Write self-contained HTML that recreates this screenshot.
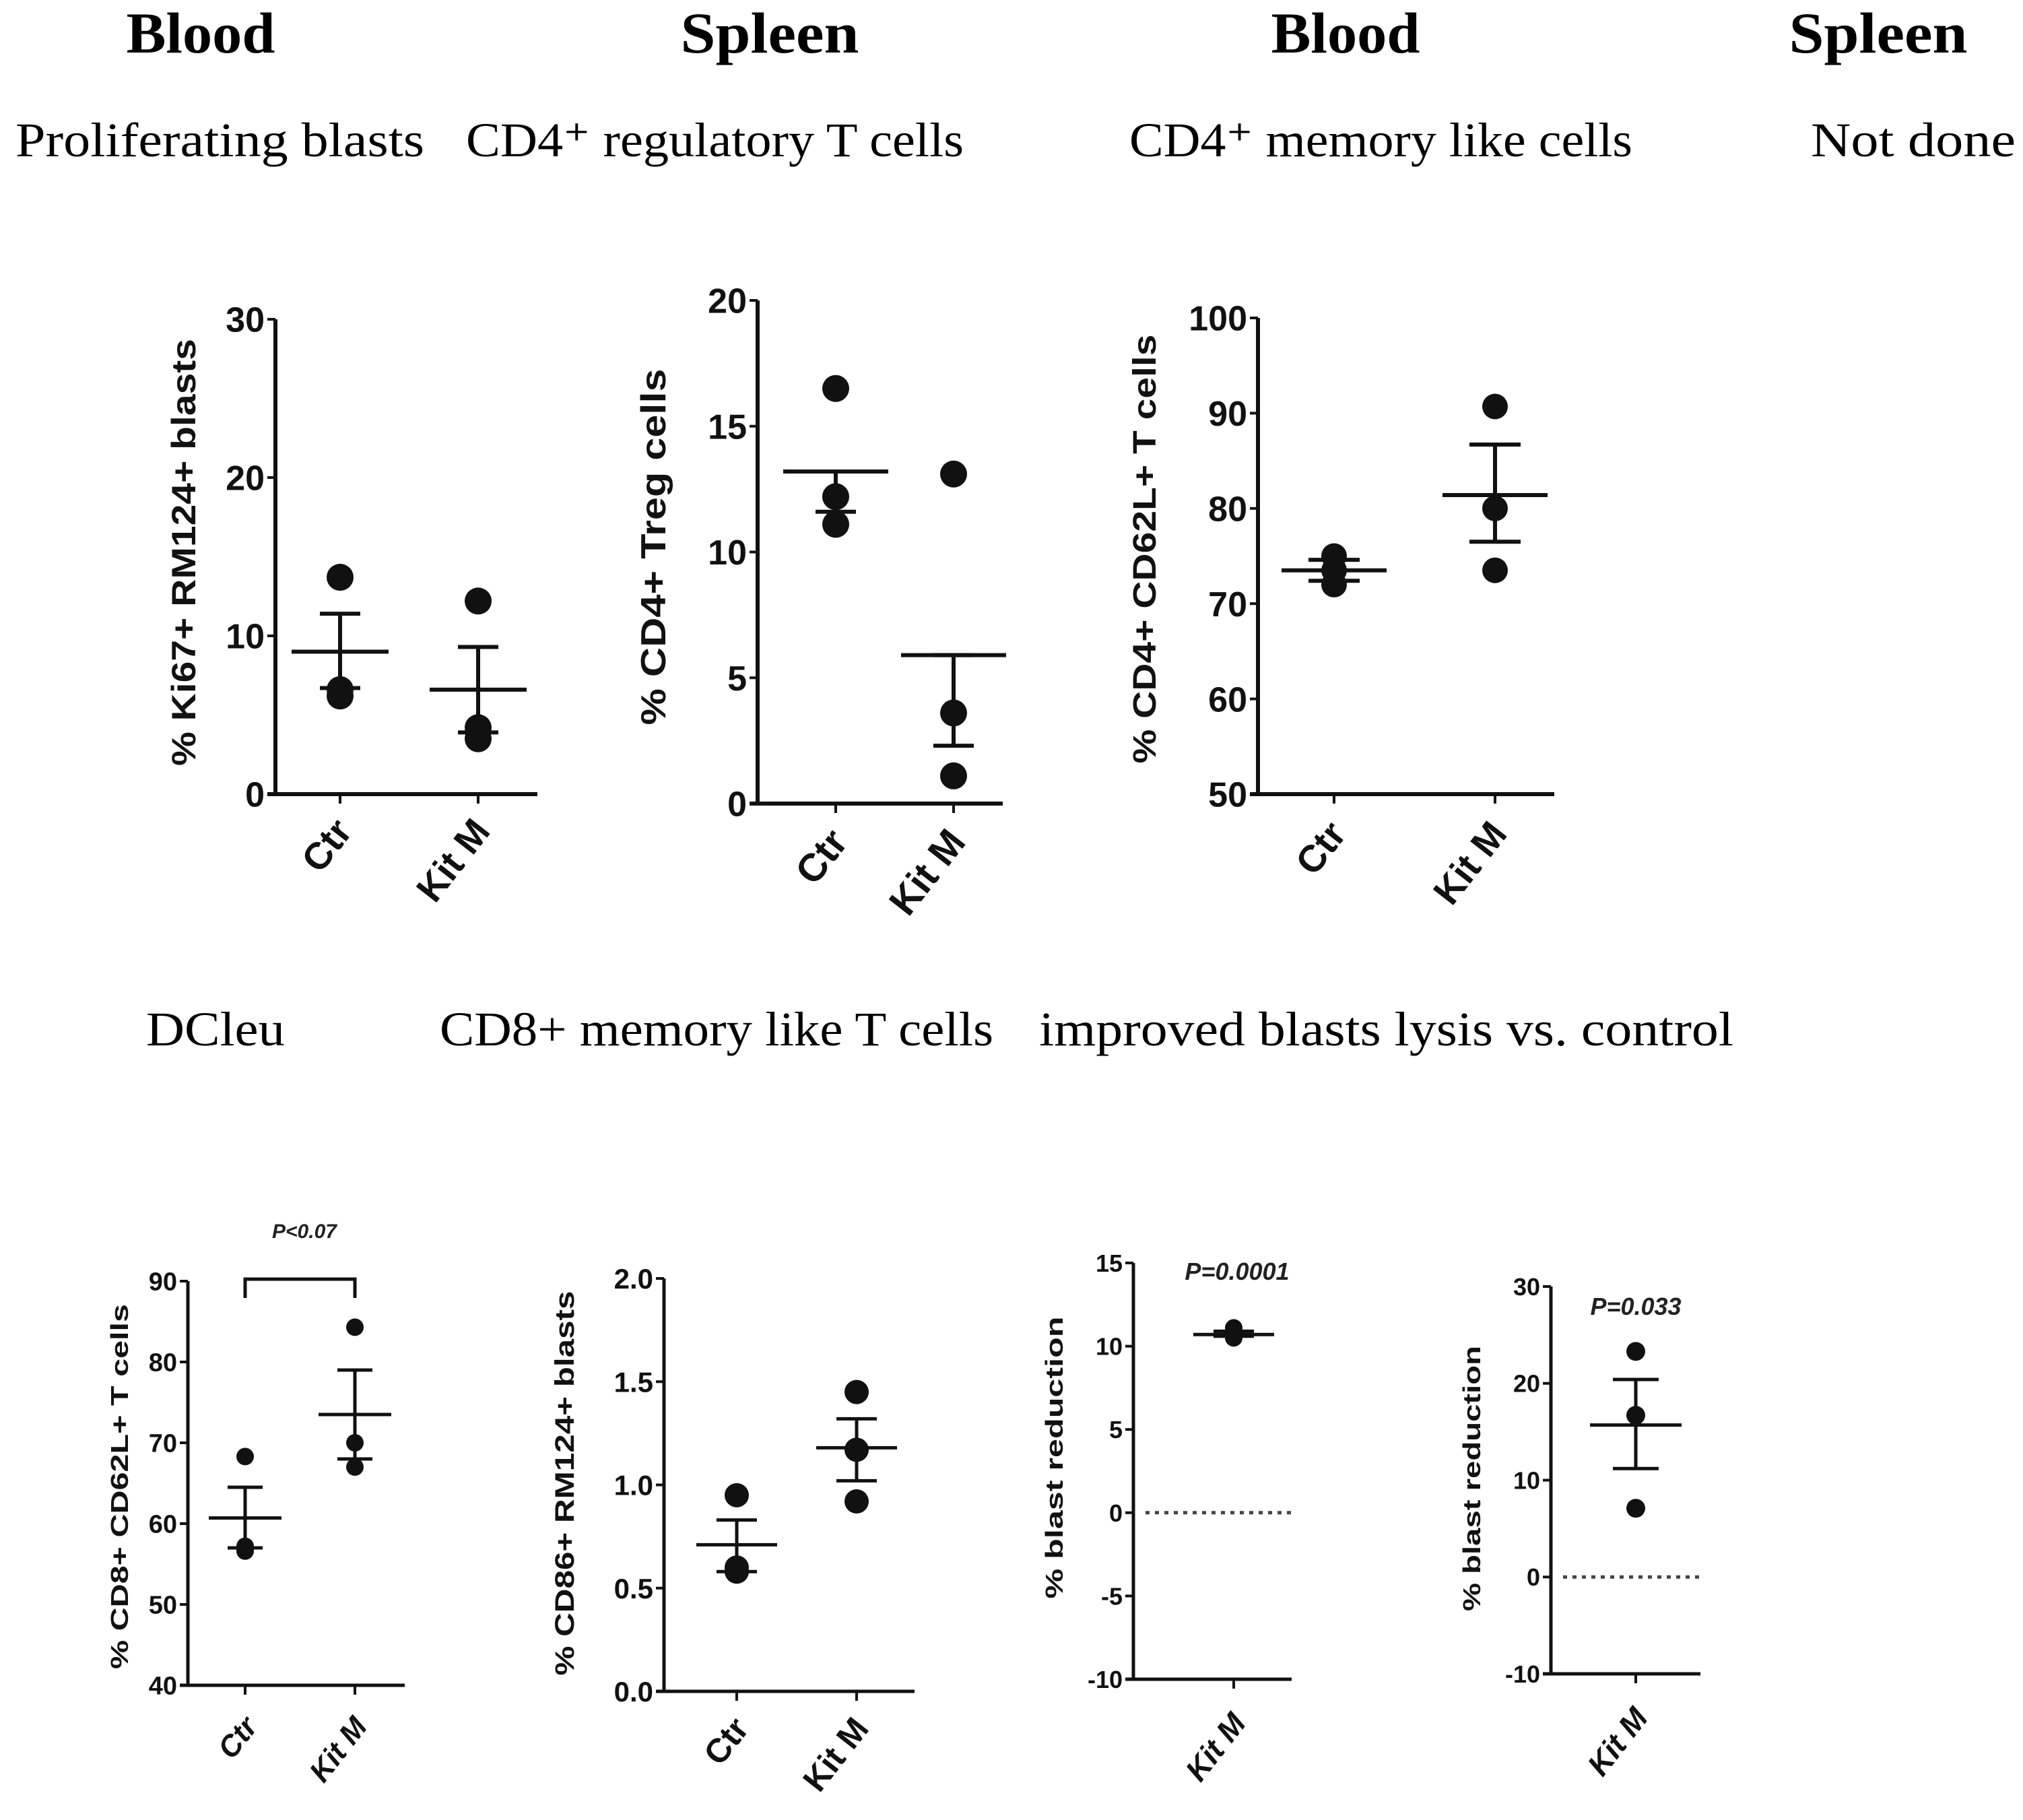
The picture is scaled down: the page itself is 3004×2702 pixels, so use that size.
<!DOCTYPE html>
<html><head><meta charset="utf-8"><style>
html,body{margin:0;padding:0;background:#fff;}
svg{display:block;}
.hd{font-family:"Liberation Serif",serif;font-weight:bold;font-size:86px;}
.sub{font-family:"Liberation Serif",serif;font-size:72px;}
.ax{font-family:"Liberation Sans",sans-serif;font-weight:bold;}
</style></head><body>
<svg id="fig" width="3004" height="2702" viewBox="0 0 3004 2702" xmlns="http://www.w3.org/2000/svg">
<text class="hd" x="298" y="78" text-anchor="middle" textLength="221" lengthAdjust="spacingAndGlyphs">Blood</text>
<text class="hd" x="1143" y="78" text-anchor="middle" textLength="265" lengthAdjust="spacingAndGlyphs">Spleen</text>
<text class="hd" x="1998" y="78" text-anchor="middle" textLength="221" lengthAdjust="spacingAndGlyphs">Blood</text>
<text class="hd" x="2789" y="78" text-anchor="middle" textLength="265" lengthAdjust="spacingAndGlyphs">Spleen</text>
<text class="sub" x="23" y="232" textLength="607" lengthAdjust="spacingAndGlyphs">Proliferating blasts</text>
<text class="sub" x="692" y="232" textLength="739" lengthAdjust="spacingAndGlyphs">CD4⁺ regulatory T cells</text>
<text class="sub" x="1677" y="232" textLength="747" lengthAdjust="spacingAndGlyphs">CD4⁺ memory like cells</text>
<text class="sub" x="2689" y="232" textLength="304" lengthAdjust="spacingAndGlyphs">Not done</text>
<text class="sub" x="217" y="1552" textLength="206" lengthAdjust="spacingAndGlyphs">DCleu</text>
<text class="sub" x="653" y="1552" textLength="822" lengthAdjust="spacingAndGlyphs">CD8+ memory like T cells</text>
<text class="sub" x="1543" y="1552" textLength="1031" lengthAdjust="spacingAndGlyphs">improved blasts lysis vs. control</text>
<g id="charts"></g>
</svg>
<script>
// ---- data ----
const c1Categories = ["Ctr","Kit M"];
const c1Points = [[13.7,6.6,6.2],[12.2,4.2,3.5]];
const c1Means = [9.0,6.6];
const c1SemHi = [11.4,9.3];
const c1SemLo = [6.7,3.9];
const c1Ticks = [0,10,20,30];

const c2Categories = ["Ctr","Kit M"];
const c2Points = [[16.5,12.2,11.1],[13.1,3.6,1.1]];
const c2Means = [13.2,5.9];
const c2SemHi = [13.2,5.9];
const c2SemLo = [11.6,2.3];
const c2Ticks = [0,5,10,15,20];

const c3Categories = ["Ctr","Kit M"];
const c3Points = [[75,73.5,72],[90.7,80,73.5]];
const c3Means = [73.5,81.4];
const c3SemHi = [74.6,86.7];
const c3SemLo = [72.4,76.5];
const c3Ticks = [50,60,70,80,90,100];

const c4Categories = ["Ctr","Kit M"];
const c4Points = [[68.3,57.2,56.6],[84.3,70,67]];
const c4Means = [60.7,73.5];
const c4SemHi = [64.5,79];
const c4SemLo = [57,68];
const c4Ticks = [40,50,60,70,80,90];

const c5Categories = ["Ctr","Kit M"];
const c5Points = [[0.95,0.6,0.58],[1.45,1.17,0.92]];
const c5Means = [0.71,1.18];
const c5SemHi = [0.83,1.32];
const c5SemLo = [0.58,1.02];
const c5Ticks = [0.0,0.5,1.0,1.5,2.0];
const c5TickLabels = ["0.0","0.5","1.0","1.5","2.0"];

const c6Categories = ["Kit M"];
const c6Points = [[11.1,10.8,10.5]];
const c6Means = [10.7];
const c6SemHi = [10.9];
const c6SemLo = [10.6];
const c6Ticks = [-10,-5,0,5,10,15];

const c7Categories = ["Kit M"];
const c7Points = [[23.3,16.7,7.1]];
const c7Means = [15.7];
const c7SemHi = [20.4];
const c7SemLo = [11.2];
const c7Ticks = [-10,0,10,20,30];

const NS="http://www.w3.org/2000/svg";
const root=document.getElementById('charts');
function mk(tag,attrs,parent){const e=document.createElementNS(NS,tag);for(const k in attrs)e.setAttribute(k,attrs[k]);(parent||root).appendChild(e);return e;}

function chart(o){
  const g=mk('g',{});
  
  
  const ymin=o.ticks[0], ymax=o.ticks[o.ticks.length-1];
  const Y=v=>o.y0+(v-ymin)/(ymax-ymin)*(o.y1-o.y0);
  const sw=o.sw||6;
  const ya=mk('line',{x1:o.ax,y1:o.y1,x2:o.ax,y2:o.y0,stroke:'#111','stroke-width':sw},g);
  
  
  const xa=mk('line',{x1:o.ax-12,y1:o.y0,x2:o.xend,y2:o.y0,stroke:'#111','stroke-width':sw},g);
  
  
  o.ticks.forEach((t,i)=>{
    const y=Y(t);
    mk('line',{x1:o.ax-12,y1:y,x2:o.ax,y2:y,stroke:'#111','stroke-width':4},g);
    const tx=mk('text',{x:o.ax-16,y:y+o.fs*0.36,'text-anchor':'end','font-size':o.fs,'class':'ax',fill:'#111'},g);
    tx.textContent=o.tickLabels?o.tickLabels[i]:String(t);
    
    
  });
  const tt=mk('text',{x:0,y:0,'text-anchor':'middle','font-size':o.tfs,'class':'ax',fill:'#111',textLength:o.tlen,lengthAdjust:'spacingAndGlyphs',transform:`translate(${o.tx},${o.tmid}) rotate(-90)`},g);
  tt.textContent=o.title;
  
  
  if(o.zero!==undefined){
    const zl=mk('line',{x1:o.ax+18,y1:Y(0),x2:o.xend,y2:Y(0),stroke:'#444','stroke-width':5,'stroke-dasharray':'6 8'},g);
    
    
  }
  o.cats.forEach((c,i)=>{
    const x=o.xs[i];
    mk('line',{x1:x,y1:o.y0,x2:x,y2:o.y0+14,stroke:'#111','stroke-width':4},g);
    const lb=mk('text',{x:0,y:0,'text-anchor':'end','font-size':o.lfs,'class':'ax',fill:'#111','font-style':o.italic?'italic':'normal',transform:`translate(${x+o.lx},${o.y0+o.ly}) rotate(-52)`},g);
    lb.textContent=c;
    
    
    o.pts[i].forEach(v=>{
      const d=mk('circle',{cx:x,cy:Y(v),r:o.r,fill:'#111'},g);
      
      
    });
    const e=mk('line',{x1:x,y1:Y(o.hi[i]),x2:x,y2:Y(o.lo[i]),stroke:'#111','stroke-width':sw},g);
    
    
    [o.hi[i],o.lo[i]].forEach(v=>{
      const cap=mk('line',{x1:x-o.cw,y1:Y(v),x2:x+o.cw,y2:Y(v),stroke:'#111','stroke-width':sw},g);
      
      
    });
    const m=mk('line',{x1:x-o.mw,y1:Y(o.means[i]),x2:x+o.mw,y2:Y(o.means[i]),stroke:'#111','stroke-width':sw},g);
    
    
  });
  if(o.p){
    const pt=mk('text',{x:o.p.x,y:o.p.y,'text-anchor':'middle','font-size':o.p.fs,'class':'ax','font-style':'italic',fill:'#222'},g);
    pt.textContent=o.p.t;
    
    
  }
  if(o.bracket){
    const b=mk('path',{d:`M${o.xs[0]},${o.bracket+28} V${o.bracket} H${o.xs[1]} V${o.bracket+28}`,fill:'none',stroke:'#111','stroke-width':5},g);
    
    
  }
}

chart({name:'chart-ki67',ax:409,xend:798,y0:1179,y1:474,ticks:c1Ticks,cats:c1Categories,xs:[505,710],pts:c1Points,means:c1Means,hi:c1SemHi,lo:c1SemLo,fs:52,tfs:50,tlen:634,tx:290,tmid:820,title:'% Ki67+ RM124+ blasts',r:20,mw:72,cw:30,lfs:56,lx:20,ly:56});
chart({name:'chart-treg',ax:1125,xend:1489,y0:1193,y1:446,ticks:c2Ticks,cats:c2Categories,xs:[1241,1416],pts:c2Points,means:c2Means,hi:c2SemHi,lo:c2SemLo,fs:52,tfs:52,tlen:529,tx:988,tmid:812,title:'% CD4+ Treg cells',r:20,mw:78,cw:30,lfs:58,lx:20,ly:58});
chart({name:'chart-cd4-cd62l',ax:1868,xend:2308,y0:1179,y1:472,ticks:c3Ticks,cats:c3Categories,xs:[1981,2220],pts:c3Points,means:c3Means,hi:c3SemHi,lo:c3SemLo,fs:52,tfs:48,tlen:637,tx:1716,tmid:815,title:'% CD4+ CD62L+ T cells',r:19,mw:78,cw:38,lfs:56,lx:20,ly:60});
chart({name:'chart-cd8-cd62l',ax:279,xend:601,y0:2502,y1:1902,ticks:c4Ticks,cats:c4Categories,xs:[364,527],pts:c4Points,means:c4Means,hi:c4SemHi,lo:c4SemLo,fs:38,tfs:36,tlen:542,tx:190,tmid:2207,title:'% CD8+ CD62L+ T cells',r:13,mw:54,cw:26,lfs:44,lx:20,ly:62,italic:true,sw:5,p:{x:452,y:1838,t:'P<0.07',fs:30},bracket:1899});
chart({name:'chart-cd86',ax:986,xend:1358,y0:2511,y1:1898,ticks:c5Ticks,tickLabels:c5TickLabels,cats:c5Categories,xs:[1094,1272],pts:c5Points,means:c5Means,hi:c5SemHi,lo:c5SemLo,fs:42,tfs:40,tlen:571,tx:852,tmid:2202,title:'% CD86+ RM124+ blasts',r:18,mw:60,cw:30,lfs:50,lx:20,ly:56,sw:5});
chart({name:'chart-blast-reduction-1',ax:1683,xend:1918,y0:2493,y1:1875,ticks:c6Ticks,cats:c6Categories,xs:[1832],pts:c6Points,means:c6Means,hi:c6SemHi,lo:c6SemLo,fs:36,tfs:36,tlen:419,tx:1578,tmid:2164,title:'% blast reduction',r:13,mw:60,cw:30,lfs:46,lx:20,ly:66,italic:true,sw:5,zero:true,p:{x:1837,y:1900,t:'P=0.0001',fs:36}});
chart({name:'chart-blast-reduction-2',ax:2303,xend:2525,y0:2485,y1:1910,ticks:c7Ticks,cats:c7Categories,xs:[2429],pts:c7Points,means:c7Means,hi:c7SemHi,lo:c7SemLo,fs:36,tfs:36,tlen:394,tx:2198,tmid:2195,title:'% blast reduction',r:14,mw:68,cw:34,lfs:46,lx:20,ly:66,italic:true,sw:5,zero:true,p:{x:2429,y:1952,t:'P=0.033',fs:36}});
</script>
</body></html>
